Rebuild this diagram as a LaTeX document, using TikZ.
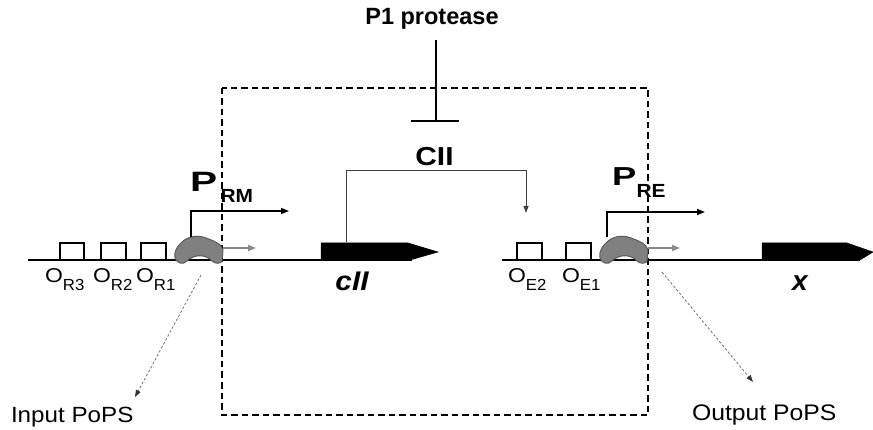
\documentclass[tikz,border=0pt]{standalone}
\usepackage{fontspec}
\setmainfont{Liberation Sans}
\usepackage{graphicx}
\usetikzlibrary{arrows.meta}
\newcommand\stx[3]{\scalebox{#1}[1]{\fontsize{#2pt}{#2pt}\selectfont #3}}
\newcommand\opl[1]{\stx{1.15}{20}{O}\raisebox{-8pt}{\stx{1.05}{16}{#1}}}
\definecolor{rnapfill}{HTML}{808080}
\definecolor{rnapline}{HTML}{5A5A5A}
\definecolor{lightarrow}{HTML}{8A8A8A}
\definecolor{regline}{HTML}{404040}
\definecolor{dotline}{HTML}{707070}
\definecolor{dottip}{HTML}{333333}
\begin{document}
\begin{tikzpicture}[x=1pt,y=-1pt,
  lbl/.style={inner sep=0pt,outer sep=0pt,anchor=base west},
  clbl/.style={inner sep=0pt,outer sep=0pt,anchor=base},
  dna/.style={line width=1.5pt,black},
  opbox/.style={line width=1.2pt,black},
  gene/.style={fill=black,draw=black,line width=0.5pt},
  rnap/.style={fill=rnapfill,draw=rnapline,line width=1pt},
  promarrow/.style={line width=1.5pt,black,-{Triangle[length=8pt,width=6pt]}},
  grayarrow/.style={line width=2pt,lightarrow,-{Triangle[length=8pt,width=6pt]}},
  regarrow/.style={line width=1pt,regline,-{Triangle[length=7pt,width=5pt]}},
  inhib/.style={line width=1.2pt,black},
  popsarrow/.style={line width=0.8pt,dotline,dash pattern=on 2.5pt off 2pt,-{Triangle[length=7pt,width=5pt,color=dottip,fill=dottip]}},
  devbox/.style={line width=1.5pt,black,dash pattern=on 6.5pt off 4pt}]
\useasboundingbox (0,0) rectangle (873,430);

% device boundary
\draw[devbox] (222,88) rectangle (648,415);

% DNA lines
\coordinate (dnaL0) at (28,260);
\coordinate (dnaL1) at (412,260);
\coordinate (dnaR0) at (502,260);
\coordinate (dnaR1) at (860,260);
\draw[dna] (dnaL0) -- (dnaL1);
\draw[dna] (dnaR0) -- (dnaR1);

% operator boxes
\foreach \a/\b in {60/84,101/126,141/166,517/542,566/591}
  \draw[opbox] (\a,260) -- (\a,243) -- (\b,243) -- (\b,260);

% genes
\draw[gene] (321,260) -- (321,243) -- (408,243) -- (438,252) -- (410,260) -- cycle;
\draw[gene] (762,260) -- (762,243) -- (847,243) -- (873,252) -- (860,260) -- cycle;

% RNA polymerases
\foreach \dx in {0,425}
  \draw[rnap,shift={(\dx,0)}] (180,263) .. controls (172,260) and (174,250) .. (180,244)
    .. controls (186,237) and (196,234) .. (206,238)
    .. controls (214,241) and (222,244) .. (223,250)
    -- (222,261)
    .. controls (221,264) and (215,264) .. (212,261)
    .. controls (206,254) and (194,254) .. (187,261)
    .. controls (185,263) and (182,264) .. (180,263) -- cycle;

% gray transcription arrows
\coordinate (gL0) at (223,248); \coordinate (gL1) at (256,248);
\coordinate (gR0) at (648,248); \coordinate (gR1) at (680,248);
\draw[grayarrow] (gL0) -- (gL1);
\draw[grayarrow] (gR0) -- (gR1);

% promoter arrows
\coordinate (pL0) at (191,237); \coordinate (pL1) at (289,211);
\coordinate (pR0) at (607,237); \coordinate (pR1) at (705,212);
\draw[promarrow] (pL0) |- (pL1);
\draw[promarrow] (pR0) |- (pR1);

% labels: promoters
\node[lbl] (PRMp) at (190,192) {\bfseries\stx{1.45}{28}{P}};
\node[lbl] (PRMs) at (220.5,202.5) {\bfseries\stx{1.1}{19}{RM}};
\node[lbl] (PREp) at (612,186) {\bfseries\stx{1.4}{26}{P}};
\node[lbl] (PREs) at (636.5,198) {\bfseries\stx{1.1}{19}{RE}};

% operator labels
\node[lbl] (OR3) at (45,283) {\opl{R3}};
\node[lbl] (OR2) at (93,283) {\opl{R2}};
\node[lbl] (OR1) at (136,283) {\opl{R1}};
\node[lbl] (OE2) at (508,283) {\opl{E2}};
\node[lbl] (OE1) at (562,283) {\opl{E1}};

% gene labels
\node[clbl] (cIIg) at (352,291) {\bfseries\itshape\stx{1.1}{27}{cII}};
\node[clbl] (xg) at (800,291) {\bfseries\itshape\stx{1.0}{28}{x}};

% protein and protease
\node[clbl] (P1) at (432,25) {\bfseries\stx{1.0}{23.5}{P1 protease}};
\node[clbl] (CII) at (434.5,166) {\bfseries\stx{1.15}{26}{CII}};

% inhibition
\coordinate (inh0) at (436,40);
\coordinate (inh1) at (436,121);
\coordinate (inhA) at (411,121);
\coordinate (inhB) at (459,121);
\draw[inhib] (inh0) -- (inh1);
\draw[inhib] (inhA) -- (inhB);

% CII activation
\coordinate (act0) at (346,242);
\coordinate (actM) at (526,171);
\coordinate (act1) at (526,213);
\draw[regarrow] (act0) |- (actM) -- (act1);

% PoPS
\node[lbl] (inpops) at (11,422) {\stx{1.1}{22}{Input PoPS}};
\node[lbl] (outpops) at (692,420) {\stx{1.1}{22.5}{Output PoPS}};
\coordinate (inS) at (201,275); \coordinate (inE) at (135,397);
\coordinate (outS) at (662,272); \coordinate (outE) at (753,382);
\draw[popsarrow] (inS) -- (inE);
\draw[popsarrow] (outS) -- (outE);
\end{tikzpicture}
\end{document}
